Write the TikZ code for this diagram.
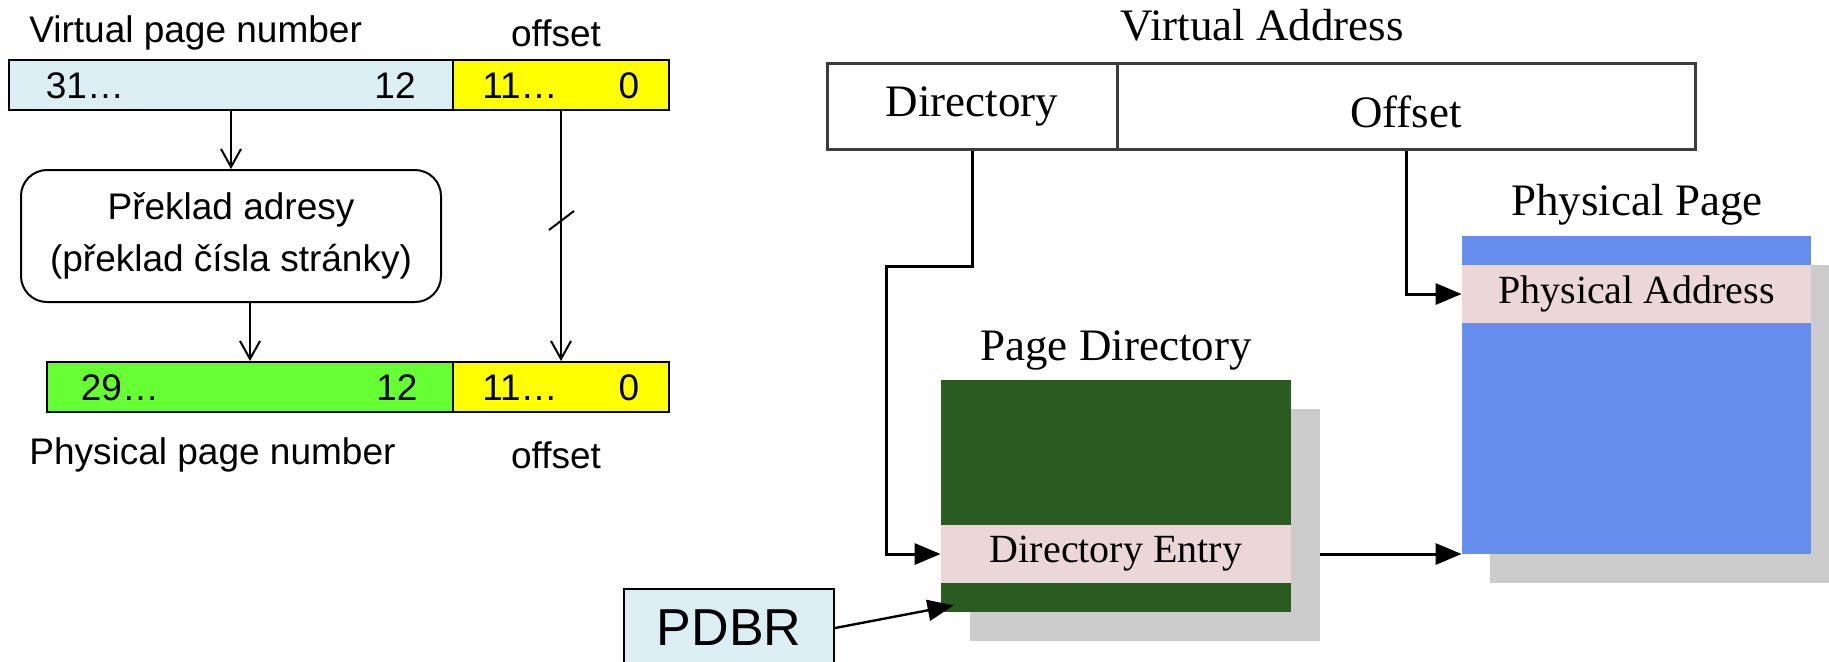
\documentclass[tikz,border=0pt]{standalone}
\usepackage{fontspec}
\setmainfont{Liberation Serif}
\newfontfamily\arialf{Liberation Sans}
\usetikzlibrary{arrows.meta,calc}
\definecolor{lblue}{RGB}{218,238,243}
\definecolor{yel}{RGB}{255,255,0}
\definecolor{lgreen}{RGB}{102,255,51}
\definecolor{dgreen}{RGB}{42,91,32}
\definecolor{pinkb}{RGB}{235,215,215}
\definecolor{pblue}{RGB}{102,142,239}
\definecolor{shad}{RGB}{204,204,204}
\definecolor{bord}{RGB}{60,60,60}
\tikzset{
  lt/.style={font=\arialf\fontsize{18.5pt}{22pt}\selectfont, inner sep=0pt},
  bar/.style={draw=black, line width=1pt, minimum height=25pt, inner sep=0pt},
  la/.style={line width=1pt, -{Straight Barb[length=9pt,width=10pt]}},
  rt/.style={font=\fontsize{22.5pt}{26pt}\selectfont, inner sep=0pt},
  bt/.style={font=\fontsize{20pt}{24pt}\selectfont, inner sep=0pt},
  vabox/.style={draw=bord, line width=1.5pt, minimum height=43pt, inner sep=0pt},
  blk/.style={inner sep=0pt, minimum width=175pt},
  ra/.style={line width=1.5pt, -{Triangle[length=13pt,width=10.5pt]}}
}
\begin{document}
\begin{tikzpicture}[x=0.5pt,y=-0.5pt]
\useasboundingbox (0,0) rectangle (1829,661);
% ---------- left part ----------
\node[lt, anchor=west] (vpnl) at (29,33) {Virtual page number};
\node[lt] (voffl) at (556,33) {offset};
\node[bar, fill=lblue, minimum width=222pt] (vpn) at (231,85) {};
\node[bar, fill=yel, minimum width=108pt] (voff) at (561,85) {};
\node[lt] (v31) at (85,86) {31…};
\node[lt] (v12) at (395,86) {12};
\node[lt] (v11) at (520,86) {11…};
\node[lt] (v0) at (629,86) {0};
\node[draw=black, line width=1pt, rounded corners=13pt, minimum width=210pt, minimum height=66pt,
      lt, align=center] (trans) at (231,236) {Překlad adresy\\[4pt](překlad čísla stránky)};
\node[bar, fill=lgreen, minimum width=203pt] (ppn) at (250,387) {};
\node[bar, fill=yel, minimum width=108pt] (poff) at (561,387) {};
\node[lt] (p29) at (120,388) {29…};
\node[lt] (p12) at (397,388) {12};
\node[lt] (p11) at (520,388) {11…};
\node[lt] (p0) at (629,388) {0};
\node[lt, anchor=west] (ppnl) at (29,455) {Physical page number};
\node[lt] (poffl) at (556,455) {offset};
\draw[la] (vpn.south) -- (trans.north);
\draw[la] (trans.south -| ppn.north) -- (ppn.north);
\draw[la] (voff.south -| 561,0) -- (poff.north -| 561,0);
\coordinate (slash) at (561,221);
\draw[line width=1pt] ($(slash)+(-12,9)$) -- ($(slash)+(13,-10)$);
% ---------- right part ----------
\node[rt] (vatitle) at (1262,25) {Virtual Address};
\node[vabox, minimum width=145pt, font=\fontsize{22.5pt}{26pt}\selectfont] (dirf) at (972,106) {Directory};
\node[vabox, minimum width=289pt] (offf) at (1406,106) {};
\node[rt] (offt) at (1406,112) {Offset};
% page directory
\node[rt] (pdtitle) at (1116,350) {Page Directory};
\node[blk, fill=shad, minimum height=116pt] (pds) at (1145,525) {};
\node[blk, fill=dgreen, minimum height=116pt] (pd) at (1116,496) {};
\node[blk, fill=pinkb, minimum height=29pt, bt] (de) at (1116,554) {Directory Entry};
% physical page
\node[rt] (pptitle) at (1637,205) {Physical Page};
\node[inner sep=0pt, minimum width=174.5pt, minimum height=159pt, fill=shad] (pps) at (1664.5,424) {};
\node[inner sep=0pt, minimum width=174.5pt, minimum height=159pt, fill=pblue] (pp) at (1636.5,395) {};
\node[inner sep=0pt, minimum width=174.5pt, minimum height=29pt, fill=pinkb, bt] (pa) at (1636.5,294) {Physical Address};
% PDBR
\node[draw=black, line width=1pt, fill=lblue, minimum width=105pt, minimum height=39pt, inner sep=0pt,
      font=\arialf\fontsize{26pt}{30pt}\selectfont] (pdbr) at (729,628) {PDBR};
% connectors
\draw[ra] (dirf.south) -- ++(0,116) -- ++(-86,0) |- (de.west);
\draw[ra] (offf.south) |- (pa.west);
\draw[ra] (pds.east |- de.east) -- (pp.west |- de.east);
\coordinate (pdin) at ($(pd.south west)+(13,-7)$);
\draw[line width=1.2pt, -{Triangle[length=13pt,width=10.5pt]}] (pdbr.east) -- (pdin);
\end{tikzpicture}
\end{document}
